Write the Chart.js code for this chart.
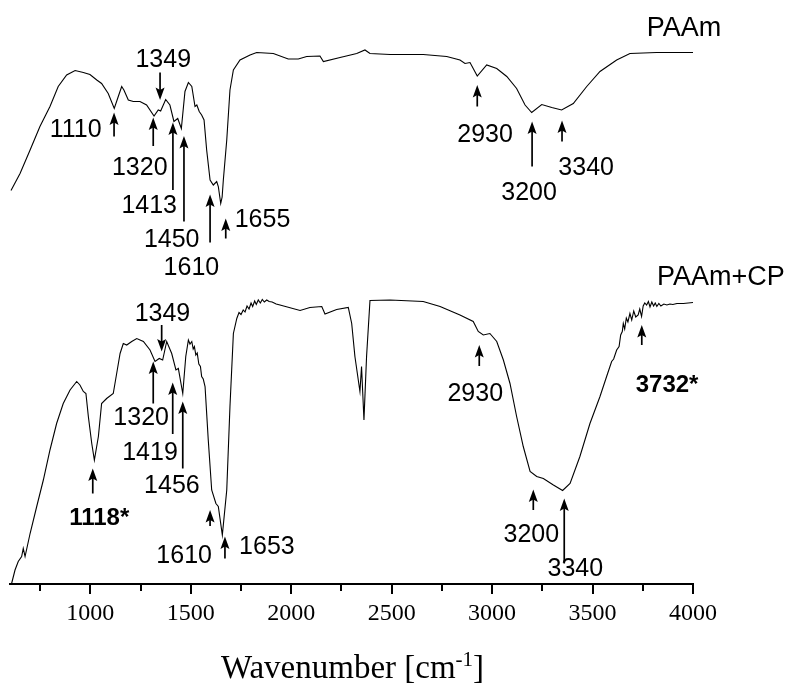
<!DOCTYPE html>
<html><head><meta charset="utf-8">
<script src="https://cdn.jsdelivr.net/npm/chart.js@4/dist/chart.umd.min.js"></script>
<style>html,body{margin:0;padding:0;background:#fff;}</style>
</head><body>
<canvas id="c" width="791" height="685"></canvas>
<script>
// ---- data (wavenumber [cm-1], transmittance in arbitrary units) ----
const paamSpectrum = [[605,78.7],[650,82.1],[700,86.8],[749,91.5],[799,95.5],[840,99.5],[882,101.8],[924,102.7],[965,102.3],[998,101.9],[1032,100.8],[1056,100.1],[1089,98.1],[1119,95.1],[1139,97.5],[1156,99.5],[1167,98.8],[1189,96.8],[1214,96.5],[1247,96.5],[1280,95.8],[1317,93.6],[1338,94.8],[1350,94.6],[1375,96.9],[1396,95.8],[1416,92.5],[1435,93.1],[1453,91.1],[1471,98.5],[1488,100.3],[1505,99.5],[1521,95.5],[1530,95.8],[1542,94.5],[1554,93.8],[1566,92.8],[1579,86.8],[1596,80.8],[1612,79.8],[1629,80.5],[1637,79.5],[1649,76.1],[1656,77.4],[1662,80.8],[1679,88.8],[1695,98.8],[1712,102.8],[1745,104.8],[1795,105.8],[1828,106.3],[1911,106.1],[1985,105],[2035,105],[2077,105.5],[2143,105.6],[2160,104.5],[2243,105.3],[2326,106.1],[2367,106.8],[2392,106.1],[2492,105.9],[2657,105.9],[2774,105.5],[2840,104.8],[2865,104.1],[2890,104.3],[2926,101.6],[2973,103.8],[3023,103.1],[3073,101.5],[3122,99.1],[3164,95.8],[3197,94.3],[3247,95.9],[3297,95.3],[3346,94.8],[3404,96.1],[3471,99.5],[3537,102.5],[3620,104.8],[3686,106.1],[3819,106.3],[4000,106.3]];

const paamCpSpectrum = [[608,0.1],[625,2.8],[641,4.5],[658,5.5],[666,7.1],[675,5.5],[700,10.1],[733,15.5],[766,20.8],[799,26.8],[832,32.1],[865,36.1],[899,38.8],[932,40.5],[948,39.8],[965,38.5],[978,38.1],[990,33.5],[1007,28.1],[1020,24.8],[1040,29.5],[1056,36.1],[1081,37.1],[1114,38.1],[1131,42.1],[1148,46.1],[1164,48.1],[1181,47.8],[1206,48.5],[1231,49.1],[1264,48.5],[1297,46.8],[1322,44.5],[1343,45.1],[1360,44.8],[1380,48.5],[1405,46.1],[1426,42.8],[1438,43.1],[1460,38.1],[1475,45.5],[1488,48.8],[1496,48.0],[1505,48.5],[1512,47.0],[1518,47.5],[1525,45.8],[1532,46.2],[1540,44.0],[1548,43.5],[1554,41.5],[1562,41.0],[1571,39.5],[1587,28.8],[1604,18.8],[1625,16.1],[1637,15.5],[1657,9.8],[1679,18.8],[1695,35.5],[1712,50.1],[1729,53.1],[1740,54.3],[1750,53.9],[1761,54.8],[1770,54.4],[1780,55.6],[1790,55.0],[1800,56.2],[1808,55.5],[1818,56.6],[1826,55.9],[1836,56.8],[1846,56.2],[1856,56.9],[1866,56.4],[1878,56.8],[1890,56.5],[1905,56.4],[1925,56.0],[1944,55.8],[2044,54.7],[2093,55.3],[2152,55.5],[2168,54.0],[2226,54.9],[2284,55.3],[2301,52.1],[2317,45.5],[2342,38.5],[2350,43.5],[2362,32.8],[2375,45.5],[2392,56.7],[2492,56.8],[2657,56.5],[2741,55.5],[2840,53.8],[2906,52.5],[2931,50.5],[2956,49.8],[2989,50.1],[3023,48.5],[3056,44.8],[3089,40.1],[3122,33.5],[3155,27.5],[3189,22.5],[3222,21.5],[3255,21.1],[3305,19.8],[3351,18.7],[3388,20.1],[3437,25.5],[3487,32.1],[3537,37.5],[3570,41.5],[3595,44.5],[3605,45.0],[3620,46.8],[3632,47.5],[3640,49.8],[3648,50.5],[3653,52.1],[3660,51.0],[3668,53.2],[3676,52.4],[3686,54.1],[3695,52.8],[3705,54.6],[3715,53.4],[3727,53.8],[3735,55.0],[3744,53.5],[3752,55.6],[3760,56.2],[3769,55.8],[3778,56.5],[3786,55.4],[3795,56.4],[3804,55.6],[3812,56.2],[3820,55.5],[3830,56.1],[3840,55.6],[3855,56.0],[3870,55.8],[3885,56.0],[3900,55.9],[3920,56.1],[3952,56.1],[4000,56.3]];

const xTickValues = [1000,1500,2000,2500,3000,3500,4000];
const minorTickValues = [750,1250,1750,2250,2750,3250,3750];
const axisTitle = 'Wavenumber [cm';
const axisTitleSup = '-1';
const axisTitleEnd = ']';

// arrows: [wavenumber, tail value, tip value]
const peakArrows = [
  [1118,89.5,94.3],[1313,87.6,93.3],[1347,102.3,96.8],[1411,78.8,92.3],[1466,72.5,89.6],
  [1596,68.3,77.9],[1674,69.1,73.1],[2926,95.5,99.8],[3199,83.5,92.5],[3348,88.5,92.7],
  [1355,51.8,46.5],[1313,36.1,44.5],[1410,30.0,40.3],[1460,23.1,36.5],[1012,18.1,23.1],
  [1596,11.6,14.8],[1670,5.1,9.5],[2936,43.6,47.8],[3745,47.8,51.8],[3205,14.8,18.9],[3359,4.1,17.1]
];
// labels: [text, wavenumber (centre), baseline value, bold]
const peakLabels = [
  ['1110',927,89.4,false],['1320',1246,81.8,false],['1349',1363,103.5,false],['1413',1293,74.2,false],
  ['1450',1405,67.5,false],['1610',1503,61.8,false],['1655',1857,71.5,false],['2930',2965,88.5,false],
  ['3200',3184,76.8,false],['3340',3468,81.8,false],
  ['1349',1359,52.7,false],['1320',1253,31.8,false],['1419',1297,24.8,false],['1456',1406,18.2,false],
  ['1118*',1044,11.8,true],['1610',1467,4.2,false],['1653',1879,6.0,false],['2930',2916,36.7,false],
  ['3732*',3871,38.5,true],['3200',3195,8.5,false],['3340',3414,1.6,false]
];
const seriesNames = [['PAAm',3955,109.6],['PAAm+CP',4139,59.8]];

// ---- drawing ----
function drawArrow(ctx, x, yTail, yTip){
  const dir = yTip < yTail ? -1 : 1;
  const headLen = 12.5, halfW = 4.5;
  ctx.lineWidth = 1.7;
  ctx.beginPath(); ctx.moveTo(x, yTail); ctx.lineTo(x, yTip - dir*headLen*0.6); ctx.stroke();
  ctx.beginPath();
  ctx.moveTo(x, yTip);
  ctx.lineTo(x - halfW, yTip - dir*headLen);
  ctx.lineTo(x, yTip - dir*headLen*0.8);
  ctx.lineTo(x + halfW, yTip - dir*headLen);
  ctx.closePath(); ctx.fill();
}

const annotatePlugin = {
  id: 'annotate',
  afterDraw(chart){
    const ctx = chart.ctx, xs = chart.scales.x, ys = chart.scales.y;
    ctx.save();
    ctx.fillStyle = '#000'; ctx.strokeStyle = '#000';
    // minor ticks
    ctx.lineWidth = 2;
    const ab = chart.chartArea.bottom;
    minorTickValues.forEach(v => {
      const px = Math.round(xs.getPixelForValue(v));
      ctx.beginPath(); ctx.moveTo(px, ab); ctx.lineTo(px, ab + 7); ctx.stroke();
    });
    // arrows
    peakArrows.forEach(a => {
      drawArrow(ctx, xs.getPixelForValue(a[0]), ys.getPixelForValue(a[1]), ys.getPixelForValue(a[2]));
    });
    // labels
    ctx.textAlign = 'center'; ctx.textBaseline = 'alphabetic';
    peakLabels.forEach(l => {
      ctx.font = l[3] ? 'bold 24px "Liberation Sans", Arial, sans-serif' : '25px "Liberation Sans", Arial, sans-serif';
      ctx.fillText(l[0], xs.getPixelForValue(l[1]), ys.getPixelForValue(l[2]));
    });
    ctx.font = '27px "Liberation Sans", Arial, sans-serif';
    seriesNames.forEach(s => ctx.fillText(s[0], xs.getPixelForValue(s[1]), ys.getPixelForValue(s[2])));
    // axis title with superscript
    const fMain = '33px "Liberation Serif", "Times New Roman", serif';
    const fSup = '21px "Liberation Serif", "Times New Roman", serif';
    ctx.font = fMain; const w1 = ctx.measureText(axisTitle).width; const w3 = ctx.measureText(axisTitleEnd).width;
    ctx.font = fSup; const w2 = ctx.measureText(axisTitleSup).width;
    const cx = (chart.chartArea.left + chart.chartArea.right) / 2 + 1;
    let x0 = cx - (w1 + w2 + w3) / 2;
    const base = chart.height - 7;
    ctx.textAlign = 'left';
    ctx.font = fMain; ctx.fillText(axisTitle, x0, base);
    ctx.font = fSup; ctx.fillText(axisTitleSup, x0 + w1, base - 12);
    ctx.font = fMain; ctx.fillText(axisTitleEnd, x0 + w1 + w2, base);
    ctx.restore();
  }
};

const toPts = arr => arr.map(p => ({x: p[0], y: p[1]}));

new Chart(document.getElementById('c'), {
  type: 'line',
  data: {
    datasets: [
      {label: 'PAAm', data: toPts(paamSpectrum), borderColor: '#000', borderWidth: 1.1, pointRadius: 0, tension: 0, fill: false},
      {label: 'PAAm+CP', data: toPts(paamCpSpectrum), borderColor: '#000', borderWidth: 1.1, pointRadius: 0, tension: 0, fill: false}
    ]
  },
  options: {
    responsive: false, animation: false, devicePixelRatio: 1,
    layout: {padding: {left: 10, right: 98, top: 9, bottom: 0}},
    plugins: {legend: {display: false}, tooltip: {enabled: false}, title: {display: false}},
    scales: {
      x: {
        type: 'linear', min: 600, max: 4000,
        afterBuildTicks: s => { s.ticks = xTickValues.map(v => ({value: v})); },
        afterFit: s => { s.height = 101; },
        border: {display: true, color: '#000', width: 2},
        grid: {drawOnChartArea: false, drawTicks: true, tickLength: 10, color: '#000', lineWidth: 2},
        ticks: {color: '#000', autoSkip: false, maxRotation: 0, padding: 5,
                callback: v => String(v),
                font: {family: '"Liberation Serif", "Times New Roman", serif', size: 24}}
      },
      y: {type: 'linear', min: 0, max: 115, display: false}
    }
  },
  plugins: [annotatePlugin]
});
</script>
</body></html>
